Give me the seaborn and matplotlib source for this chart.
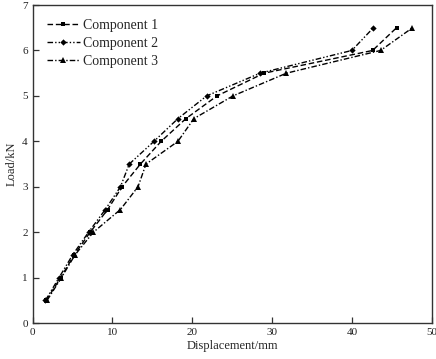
import matplotlib
matplotlib.use("Agg")
import matplotlib.pyplot as plt
import seaborn as sns
import pandas as pd

load = [0.5, 1.0, 1.5, 2.0, 2.5, 3.0, 3.5, 4.0, 4.5, 5.0, 5.5, 6.0, 6.5]
disp_c1 = [1.7, 3.5, 5.2, 7.2, 9.4, 11.2, 13.5, 16.1, 19.2, 23.1, 29.0, 42.6, 45.6]
disp_c2 = [1.6, 3.3, 5.0, 7.0, 9.1, 11.0, 12.1, 15.2, 18.2, 21.8, 28.5, 40.0, 42.7]
disp_c3 = [1.8, 3.6, 5.3, 7.6, 11.0, 13.2, 14.2, 18.2, 20.2, 25.1, 31.8, 43.6, 47.6]
labels = ["Component 1", "Component 2", "Component 3"]
xticks = [0, 10, 20, 30, 40, 50]
yticks = [0, 1, 2, 3, 4, 5, 6, 7]

sns.set_theme(style="ticks")
plt.rcParams["font.family"] = ["Liberation Serif", "DejaVu Serif"]
plt.rcParams["xtick.direction"] = "in"
plt.rcParams["ytick.direction"] = "in"

fig = plt.figure(figsize=(4.36, 3.59), dpi=100)
ax = fig.add_axes([0.075, 0.100, 0.915, 0.886])

styles = [
    dict(linestyle=(0, (4, 2)), marker="s", markersize=3.5),
    dict(linestyle=(0, (4, 1.5, 1, 1.5, 1, 1.5)), marker="D", markersize=3.2),
    dict(linestyle=(0, (4, 1.5, 1, 1.5)), marker="^", markersize=3.8),
]
for lab, xs, st in zip(labels, [disp_c1, disp_c2, disp_c3], styles):
    df = pd.DataFrame({"Displacement": xs, "Load": load})
    sns.lineplot(data=df, x="Displacement", y="Load", sort=False, ax=ax,
                 color="black", linewidth=1.0, markeredgewidth=0,
                 label=lab, **st)

ax.set_xlim(0, 50)
ax.set_ylim(0, 7)
ax.set_xticks(xticks)
ax.set_yticks(yticks)
ax.tick_params(labelsize=8, length=4, width=0.9, color="#333333", labelcolor="#222222")
for s in ax.spines.values():
    s.set_linewidth(1.0)
    s.set_color("#333333")
ax.set_xlabel("Displacement/mm", fontsize=9, labelpad=2)
ax.set_ylabel("Load/kN", fontsize=9, labelpad=3)
ax.legend(loc="upper left", frameon=False, fontsize=10, handlelength=2.4,
          borderaxespad=0.6, labelspacing=0.35, handletextpad=0.25)

fig.savefig("out.png", dpi=100)
